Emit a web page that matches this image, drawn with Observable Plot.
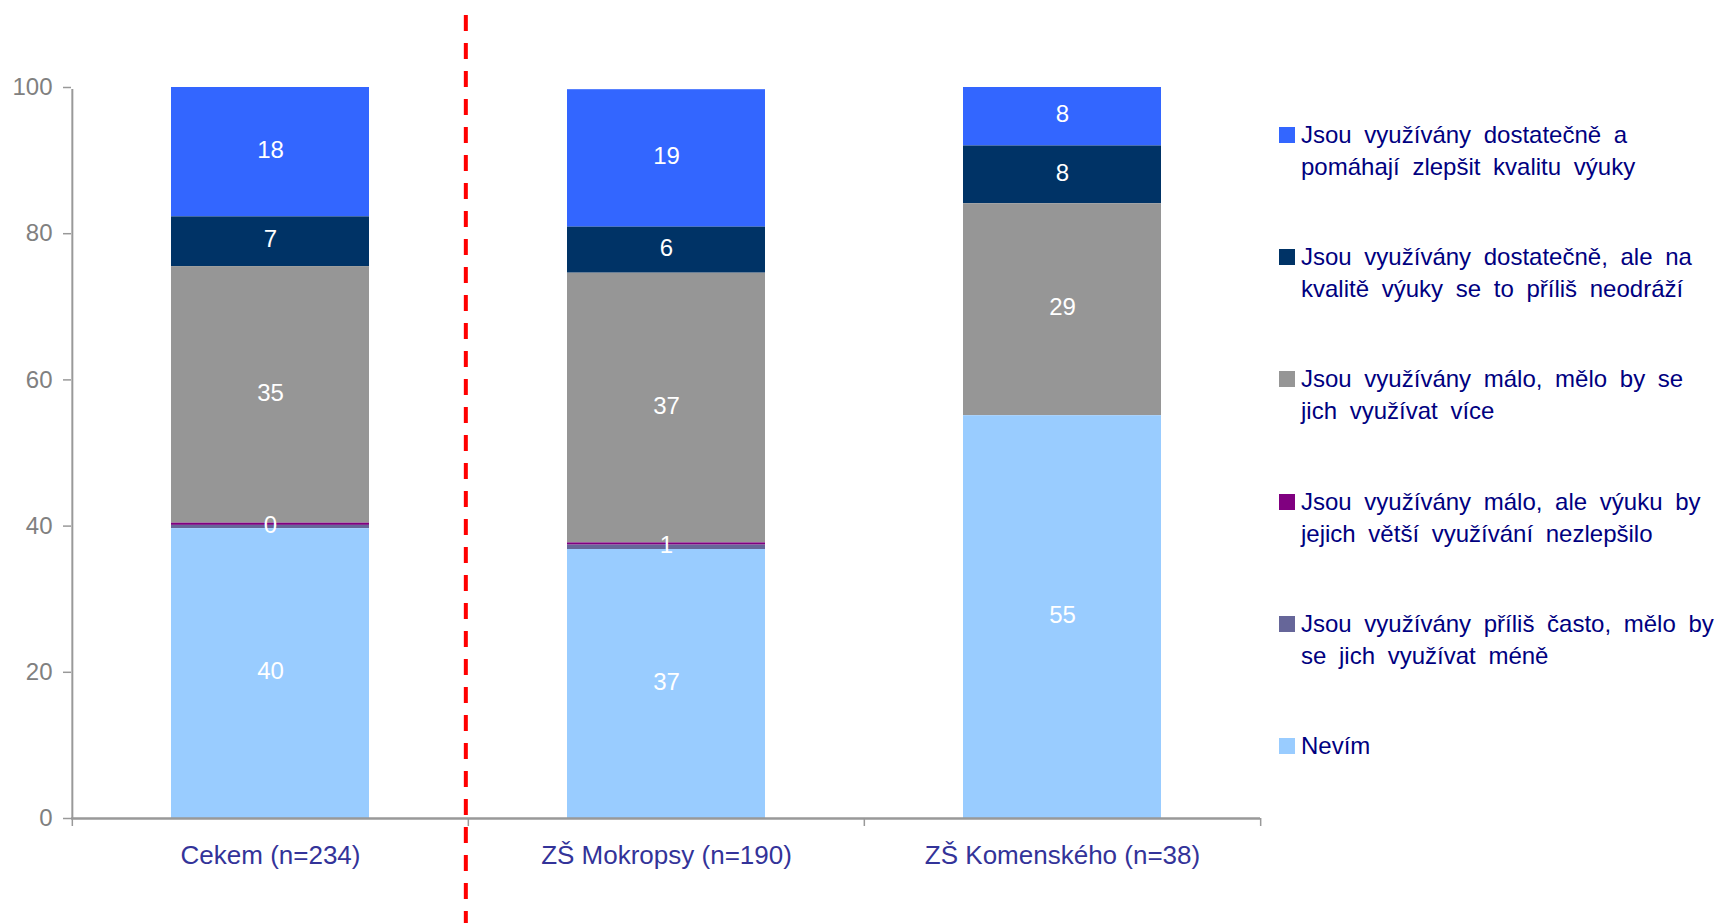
<!DOCTYPE html>
<html><head><meta charset="utf-8">
<script src="https://cdn.jsdelivr.net/npm/d3@7"></script>
<script src="https://cdn.jsdelivr.net/npm/@observablehq/plot@0.6"></script>
<style>
body{margin:0;background:#fff;}
#wrap{position:relative;width:1719px;height:923px;overflow:hidden;font-family:"Liberation Sans",Arial,sans-serif;background:#fff;}
#chart{position:absolute;left:0;top:0;}
.leg{position:absolute;left:1279px;display:flex;align-items:flex-start;font-size:24px;line-height:32px;color:#000080;white-space:nowrap;word-spacing:6px;}
.sw{width:16px;height:16px;margin-top:8px;margin-right:6px;flex:none;}
</style></head><body><div id="wrap"><div id="chart"></div><div id="legend"></div></div>
<script>
// ---- data ----
const categories = ["Cekem (n=234)", "ZŠ Mokropsy (n=190)", "ZŠ Komenského (n=38)"];
// series in legend order (top to bottom)
const seriesLines = [
  ["Jsou využívány dostatečně a", "pomáhají zlepšit kvalitu výuky"],
  ["Jsou využívány dostatečně, ale na", "kvalitě výuky se to příliš neodráží"],
  ["Jsou využívány málo, mělo by se", "jich využívat více"],
  ["Jsou využívány málo, ale výuku by", "jejich větší využívání nezlepšilo"],
  ["Jsou využívány příliš často, mělo by", "se jich využívat méně"],
  ["Nevím"]
];
const seriesColors = ["#3366FF", "#003366", "#969696", "#800080", "#666699", "#99CCFF"];
const valDostatecneA   = [17.7, 18.8, 8.0];
const valDostatecneAle = [6.8, 6.3, 7.9];
const valMaloMeloBy    = [35.1, 36.9, 29.0];
const valMaloAle       = [0.3, 0.3, 0];
const valPrilisCasto   = [0.45, 0.6, 0];
const valNevim         = [39.65, 36.8, 55.1];
const showLabel = [true, true, true, false, true, true];
const yTicks = [0, 20, 40, 60, 80, 100];

const seriesNames = seriesLines.map(l => l.join(" "));
const seriesValues = [valDostatecneA, valDostatecneAle, valMaloMeloBy, valMaloAle, valPrilisCasto, valNevim];
const rows = [];
seriesNames.forEach((s, i) => categories.forEach((c, j) => rows.push({
  cat: c, series: s, value: seriesValues[i][j], label: showLabel[i] && seriesValues[i][j] > 0
})));
const order = seriesNames.slice().reverse();

// ---- layout ----
const W = 1270, H = 923, mL = 71, mR = 10, mT = 87, mB = 105;
const step = (W - mL - mR) / categories.length;
const font = "'Liberation Sans', Arial, sans-serif";

const chart = Plot.plot({
  width: W, height: H,
  marginLeft: mL, marginRight: mR, marginTop: mT, marginBottom: mB,
  style: {fontFamily: font, background: "white", overflow: "visible"},
  x: {domain: categories, paddingInner: 0.5, paddingOuter: 0.25, label: null},
  y: {domain: [0, 100], label: null},
  color: {domain: seriesNames, range: seriesColors},
  marks: [
    Plot.barY(rows, Plot.stackY({x: "cat", y: "value", fill: "series", order})),
    Plot.text(rows, Plot.stackY({
      x: "cat", y: "value", z: "series", order,
      text: d => d.label ? d3.format(".0f")(d.value) : "",
      fill: "white", fontSize: 24, dy: -2
    })),
    Plot.ruleY([0], {stroke: "#999", strokeWidth: 2.5}),
    Plot.ruleX(categories, {dx: -step / 2, y1: 0, y2: 0, insetBottom: -8, stroke: "#999", strokeWidth: 1.5}),
    Plot.ruleX([categories[categories.length - 1]], {dx: step / 2, y1: 0, y2: 0, insetBottom: -8, stroke: "#999", strokeWidth: 1.5}),
    Plot.ruleX([categories[0]], {dx: -step / 2, y1: 0, y2: 100, insetBottom: -2, stroke: "#999", strokeWidth: 2}),
    Plot.axisY({ticks: yTicks, tickSize: 8, tickPadding: 11, fontSize: 24, fill: "#808080", stroke: "#999", strokeWidth: 1.5, label: null}),
    Plot.axisX({tickSize: 0, tickPadding: 27, fontSize: 26, fill: "#333399", label: null}),
    Plot.ruleX([categories[1]], {dx: -step / 2 - 2.5, stroke: "red", strokeWidth: 4, strokeDasharray: "16,12", insetTop: -(mT - 15), insetBottom: -mB})
  ]
});
document.getElementById("chart").appendChild(chart);

// ---- legend ----
const legend = document.getElementById("legend");
seriesLines.forEach((lines, i) => {
  const item = document.createElement("div");
  item.className = "leg";
  item.style.top = (119 + i * 122.2) + "px";
  const sw = document.createElement("div");
  sw.className = "sw";
  sw.style.background = seriesColors[i];
  const tx = document.createElement("div");
  tx.innerHTML = lines.join("<br>");
  item.appendChild(sw);
  item.appendChild(tx);
  legend.appendChild(item);
});
</script>
</body></html>
